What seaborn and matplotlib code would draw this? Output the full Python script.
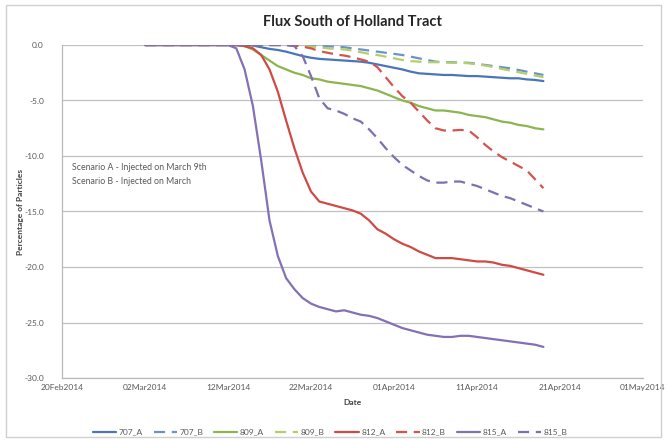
import matplotlib
matplotlib.use("Agg")
import matplotlib.pyplot as plt
import matplotlib.dates as mdates
from matplotlib.patches import Rectangle
import seaborn as sns
import pandas as pd

# daily values, 02Mar2014 .. 19Apr2014
dates = pd.date_range("2014-03-02", "2014-04-19", freq="D")

s707_A = [0.0] * 13 + [-0.05, -0.2, -0.35, -0.45, -0.6, -0.8, -1.0, -1.15, -1.25, -1.3, -1.35, -1.4,
                       -1.45, -1.5, -1.6, -1.75, -1.9, -2.05, -2.2, -2.4, -2.55, -2.6, -2.65, -2.7,
                       -2.7, -2.75, -2.8, -2.8, -2.85, -2.9, -2.95, -3.0, -3.0, -3.1, -3.15, -3.25]
s707_B = [0.0] * 18 + [-0.02, -0.05, -0.08, -0.1, -0.12, -0.15, -0.2, -0.3, -0.4, -0.5, -0.6, -0.7,
                       -0.8, -0.9, -1.05, -1.2, -1.35, -1.5, -1.55, -1.55, -1.6, -1.6, -1.7, -1.8,
                       -1.9, -2.0, -2.1, -2.25, -2.4, -2.55, -2.7]
s809_A = [0.0] * 12 + [-0.1, -0.4, -0.9, -1.4, -1.9, -2.2, -2.5, -2.7, -3.0, -3.1, -3.3, -3.4,
                       -3.5, -3.6, -3.7, -3.9, -4.1, -4.4, -4.7, -5.0, -5.2, -5.5, -5.7, -5.9,
                       -5.9, -6.0, -6.1, -6.3, -6.4, -6.5, -6.7, -6.9, -7.0, -7.2, -7.3, -7.5, -7.6]
s809_B = [0.0] * 17 + [-0.02, -0.05, -0.1, -0.15, -0.2, -0.3, -0.35, -0.4, -0.5, -0.65, -0.8, -0.9,
                       -1.05, -1.2, -1.35, -1.45, -1.5, -1.55, -1.55, -1.55, -1.6, -1.6, -1.65,
                       -1.75, -1.85, -2.0, -2.15, -2.3, -2.45, -2.6, -2.75, -2.9]
s812_A = [0.0] * 12 + [-0.1, -0.3, -0.9, -2.2, -4.2, -6.8, -9.3, -11.5, -13.2, -14.1, -14.3, -14.5,
                       -14.7, -14.9, -15.2, -15.8, -16.6, -17.0, -17.5, -17.9, -18.2, -18.6, -18.9,
                       -19.2, -19.2, -19.2, -19.3, -19.4, -19.5, -19.5, -19.6, -19.8, -19.9, -20.1,
                       -20.3, -20.5, -20.7]
s812_B = [0.0] * 18 + [-0.05, -0.15, -0.3, -0.55, -0.7, -0.85, -0.95, -1.1, -1.3, -1.5, -2.0, -2.9,
                       -3.8, -4.6, -5.2, -6.0, -6.8, -7.5, -7.7, -7.7, -7.65, -7.7, -8.3, -9.0,
                       -9.6, -10.1, -10.5, -10.9, -11.3, -12.1, -12.9]
s815_A = [0.0] * 11 + [-0.3, -2.2, -5.5, -10.4, -15.8, -19.0, -21.0, -22.0, -22.8, -23.3, -23.6, -23.8,
                       -24.0, -23.9, -24.1, -24.3, -24.4, -24.6, -24.9, -25.2, -25.5, -25.7, -25.9,
                       -26.1, -26.2, -26.3, -26.3, -26.2, -26.2, -26.3, -26.4, -26.5, -26.6, -26.7,
                       -26.8, -26.9, -27.0, -27.2]
s815_B = [0.0] * 18 + [-0.1, -1.0, -2.8, -4.8, -5.7, -5.9, -6.2, -6.6, -6.9, -7.6, -8.4, -9.3,
                       -10.1, -10.8, -11.3, -11.8, -12.2, -12.4, -12.4, -12.3, -12.3, -12.5, -12.7,
                       -13.0, -13.3, -13.6, -13.8, -14.1, -14.4, -14.7, -15.0]

series_names = ["707_A", "707_B", "809_A", "809_B", "812_A", "812_B", "815_A", "815_B"]
series_vals = [s707_A, s707_B, s809_A, s809_B, s812_A, s812_B, s815_A, s815_B]
colors = {"707_A": "#4A76B8", "707_B": "#6C93C8",
          "809_A": "#8DB44E", "809_B": "#B3CF68",
          "812_A": "#CF4A45", "812_B": "#D5534E",
          "815_A": "#8470B4", "815_B": "#7F6FB0"}

xticks = pd.date_range("2014-02-20", periods=8, freq="10D")
yticks = [0, -5, -10, -15, -20, -25, -30]

sns.set_style("white")
plt.rcParams["font.family"] = ["Lato", "DejaVu Sans"]

fig = plt.figure(figsize=(6.67, 4.40), dpi=100)
ax = fig.add_axes([62 / 667, 1 - 378 / 440, (643 - 62) / 667, (378 - 45) / 440])

for name, vals in zip(series_names, series_vals):
    ls = (0, (5, 3)) if name.endswith("_B") else "-"
    sns.lineplot(x=dates, y=vals, ax=ax, color=colors[name], linewidth=1.6,
                 linestyle=ls, label=name, legend=False)

ax.set_xlim(pd.Timestamp("2014-02-20"), pd.Timestamp("2014-05-01"))
ax.set_ylim(-30, 0)
ax.set_xticks(xticks)
ax.xaxis.set_major_formatter(mdates.DateFormatter("%d%b%Y"))
ax.set_yticks(yticks)
ax.set_yticklabels([f"{v:.1f}" for v in yticks])
ax.tick_params(axis="both", length=0, labelsize=6, colors="#595959")
ax.tick_params(axis="y", pad=13)
ax.tick_params(axis="x", pad=4)
ax.grid(axis="y", color="#C0C0C0", linewidth=0.9)
ax.set_axisbelow(True)
for side in ["top", "right"]:
    ax.spines[side].set_visible(False)
for side in ["left", "bottom"]:
    ax.spines[side].set_color("#B8B8B8")
    ax.spines[side].set_linewidth(0.9)

ax.set_xlabel("Date", fontsize=6, fontweight="bold", color="#404040", labelpad=6)
ax.set_ylabel("Percentage of Particles", fontsize=6, fontweight="bold", color="#404040", labelpad=0)
ax.set_title("Flux South of Holland Tract", fontsize=10.5, fontweight="bold", color="#262626", pad=14)

ax.text(72, 440 - 167, "Scenario A - Injected on March 9th", transform=None, fontsize=6.3,
        color="#595959", va="center")
ax.text(72, 440 - 181, "Scenario B - Injected on March", transform=None, fontsize=6.3,
        color="#595959", va="center")

handles, labels = ax.get_legend_handles_labels()
fig.legend(handles, labels, loc="center", bbox_to_anchor=(330 / 667, 1 - 432 / 440), ncol=8,
           frameon=False, fontsize=6, handlelength=2.8, handletextpad=0.3, columnspacing=1.3,
           labelcolor="#595959")

fig.add_artist(Rectangle((6 / 667, 3 / 440), 655 / 667, 432 / 440, transform=fig.transFigure,
                         fill=False, edgecolor="#D0D0D0", linewidth=1))

fig.savefig("out.png", dpi=100)
